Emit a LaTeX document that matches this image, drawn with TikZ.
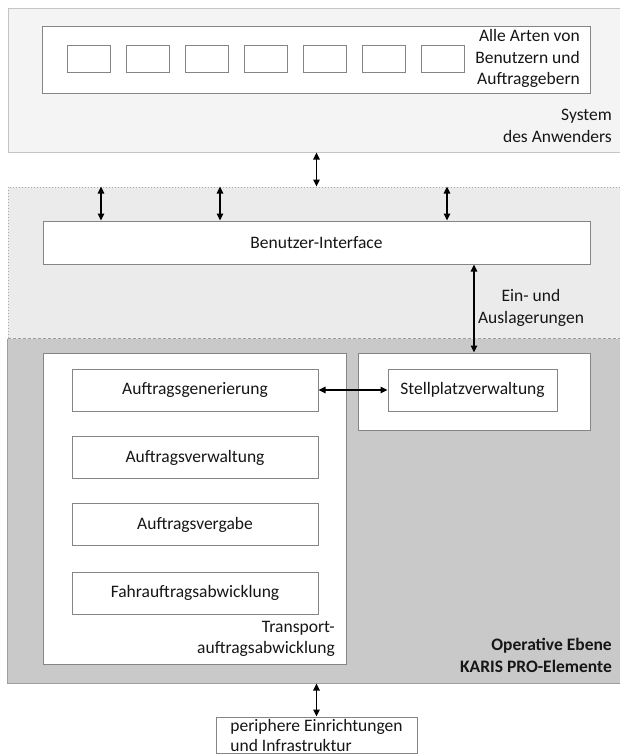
\documentclass[tikz,border=0pt]{standalone}
\usepackage{fontspec}
\setmainfont{Carlito}
\usetikzlibrary{arrows.meta}
\definecolor{paneone}{HTML}{F4F4F4}
\definecolor{paneoneline}{HTML}{C4C4C4}
\definecolor{panetwo}{HTML}{EBEBEB}
\definecolor{panetwoline}{HTML}{ABABAB}
\definecolor{panethree}{HTML}{C9C9C9}
\definecolor{panethreeline}{HTML}{9E9E9E}
\definecolor{boxline}{HTML}{858585}
\definecolor{txt}{HTML}{161616}

\begin{document}
\begin{tikzpicture}[x=1pt, y=-1pt,
every node/.style = {font=\fontsize{17.5}{21.5}\selectfont, text=txt},
box/.style = {rectangle, draw=boxline, fill=white, line width=1pt,
            inner sep=0pt, minimum width=#1},
box/.default = 246pt,  % width of a task box
lbl/.style = {anchor=east, align=right, inner sep=0pt},
panel/.style = {rectangle, minimum width=617pt, minimum height=#1,
            inner sep=0pt, line width=1pt},
dblarrow/.style = {{Triangle[length=7pt,width=6.5pt]}-{Triangle[length=7pt,width=6.5pt]},
            black, line width=1.3pt}
                ]
    \useasboundingbox (0,0) rectangle (619,755);

    % the three layers
    \node[panel=144pt, fill=paneone, draw=paneoneline] at (316.5,80) (sys) {};
    \node[panel=152pt, fill=panetwo, draw=panetwoline, dotted] at (316.5,263) (uilayer) {};
    \node[panel=344pt, fill=panethree] at (316.5,511) (op) {};
    \draw[panethreeline, line width=1pt] (op.north west) |- (op.south east);
    \draw[panethreeline, line width=1pt, densely dashed] (op.north west) -- (op.north east);

    % system of the user
    \node[box=548pt, minimum height=67pt] at (316,59.5) (users) {};
    \foreach \i in {0,...,6}
        \node[box=43pt, minimum height=27pt] at (88.5+59*\i,58.5) (u\i) {};
    \node[lbl] at (580,58.5) (userslabel) {Alle Arten von\\Benutzern und\\Auftraggebern};
    \node[lbl] at (612,126) (syslabel) {System\\des Anwenders};

    % user interface
    \node[box=547pt, minimum height=43pt] at (316.5,242.5) (ui) {Benutzer-Interface};
    \node[align=center] at (531,308) (inout) {Ein- und\\Auslagerungen};

    % operative level
    \node[box=303pt, minimum height=311pt] at (194.5,508.5) (transport) {};
    \foreach \y/\name/\txt in {390/gen/Auftragsgenerierung, 457.5/verw/Auftragsverwaltung,
                               524.5/verg/Auftragsvergabe, 593/fahr/Fahrauftragsabwicklung}
        \node[box, minimum height=42pt] at (195,\y) (\name) {\txt};
    \node[lbl] at (335,639) (transportlabel) {Transport-\\auftragsabwicklung};

    \node[box=232pt, minimum height=77pt] at (474,391.5) (stellbox) {};
    \node[box=169pt, minimum height=42pt] at (472.5,390) (stell) {Stellplatzverwaltung};
    \node[lbl, font=\fontsize{17.5}{21.5}\selectfont\bfseries] at (612,655.5) (oplabel) {Operative Ebene\\KARIS PRO-Elemente};

    \node[box=201pt, minimum height=36pt, align=left,
          font=\fontsize{17.5}{20}\selectfont] at (316.5,735) (peri) {periphere Einrichtungen\\und Infrastruktur};

    % connections
    \draw[dblarrow] (sys.south) -- (uilayer.north);
    \foreach \x in {101,220,447}
        \draw[dblarrow] (uilayer.north -| \x,0) -- (ui.north -| \x,0);
    \draw[dblarrow] (ui.south -| stellbox.north) -- (stellbox.north);
    \draw[dblarrow] (gen.east) -- (stell.west);
    \draw[dblarrow] (op.south) -- (peri.north);
\end{tikzpicture}
\end{document}
